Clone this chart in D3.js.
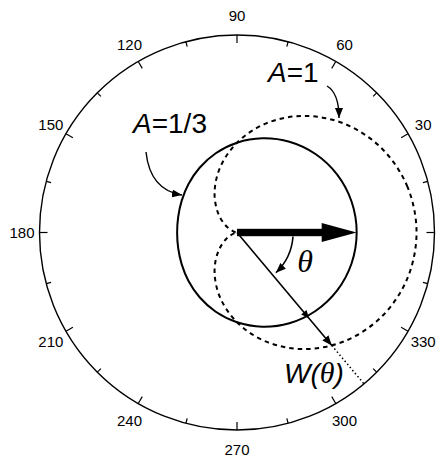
<!DOCTYPE html>
<html><head><meta charset="utf-8">
<script src="https://cdn.jsdelivr.net/npm/d3@7"></script>
<style>html,body{margin:0;padding:0;background:#fff;} svg{display:block;}</style>
</head><body>
<svg id="chart" width="447" height="457"></svg>
<script>
// ---- data ----
const thetaDeg = [0,15,30,45,60,75,90,105,120,135,150,165,180,195,210,225,240,255,270,285,300,315,330,345];
const wA13 = [1.333,1.322,1.289,1.236,1.167,1.086,1.000,0.914,0.833,0.764,0.711,0.678,0.667,0.678,0.711,0.764,0.833,0.914,1.000,1.086,1.167,1.236,1.289,1.322];
const wA1  = [2.000,1.966,1.866,1.707,1.500,1.259,1.000,0.741,0.500,0.293,0.134,0.034,0.000,0.034,0.134,0.293,0.500,0.741,1.000,1.259,1.500,1.707,1.866,1.966];
const majorTickAngles = [0,30,60,90,120,150,180,210,240,270,300,330];
const tickLabels = ["0","30","60","90","120","150","180","210","240","270","300","330"];
const minorTickAngles = [15,45,75,105,135,165,195,225,255,285,315,345];
const radialMax = 2.2;
const seriesLabels = ["A=1/3","A=1"];
const wTheta = 310;          // direction of the W(θ) vector (θ = 50° below the axis)
const wAtThetaA1 = 1.643;    // length of W(θ) on the A=1 curve
const wAtThetaA13 = 1.214;   // crossing with the A=1/3 curve
const mainArrowLength = 1.333;

// ---- layout ----
const cx = 237, cy = 232.5, R = 197.5;
const svg = d3.select("#chart");
const g = svg.append("g").attr("transform", `translate(${cx},${cy})`);
const ang = d3.scaleLinear().domain([0,360]).range([Math.PI/2, Math.PI/2 - 2*Math.PI]);
const rad = d3.scaleLinear().domain([0, radialMax]).range([0, R]);
const pt = (t, w) => [rad(w)*Math.sin(ang(t)), -rad(w)*Math.cos(ang(t))];

const defs = svg.append("defs");
defs.append("marker").attr("id","ah").attr("viewBox","0 0 10 8").attr("refX",10).attr("refY",4)
  .attr("markerUnits","userSpaceOnUse").attr("markerWidth",10).attr("markerHeight",8).attr("orient","auto")
  .append("path").attr("d","M0,0 L10,4 L0,8 Z").attr("fill","#000");

// outer circle
g.append("circle").attr("r", rad(radialMax)).attr("fill","none").attr("stroke","#000").attr("stroke-width",1.4);

// ticks
g.selectAll(".maj").data(majorTickAngles).join("line")
  .attr("x1", d => pt(d, radialMax)[0]).attr("y1", d => pt(d, radialMax)[1])
  .attr("x2", d => pt(d, radialMax)[0]*(R-8)/R).attr("y2", d => pt(d, radialMax)[1]*(R-8)/R)
  .attr("stroke","#000").attr("stroke-width",1.2);
g.selectAll(".min").data(minorTickAngles).join("line")
  .attr("x1", d => pt(d, radialMax)[0]).attr("y1", d => pt(d, radialMax)[1])
  .attr("x2", d => pt(d, radialMax)[0]*(R-5)/R).attr("y2", d => pt(d, radialMax)[1]*(R-5)/R)
  .attr("stroke","#000").attr("stroke-width",1.2);

// tick labels
g.selectAll(".tl").data(majorTickAngles).join("text")
  .attr("x", d => 215*Math.cos(d*Math.PI/180))
  .attr("y", d => -217*Math.sin(d*Math.PI/180))
  .attr("text-anchor","middle").attr("dominant-baseline","central")
  .attr("font-family","'Liberation Sans', Arial, sans-serif").attr("font-size",15)
  .text((d,i) => tickLabels[i]);

// curves
const line = d3.lineRadial().angle(d => ang(d.t)).radius(d => rad(d.w)).curve(d3.curveCatmullRomClosed.alpha(0.5));
g.append("path").datum(thetaDeg.map((t,i)=>({t, w:wA13[i]})))
  .attr("d", line).attr("fill","none").attr("stroke","#000").attr("stroke-width",2);
g.append("path").datum(thetaDeg.map((t,i)=>({t, w:wA1[i]})))
  .attr("d", line).attr("fill","none").attr("stroke","#000").attr("stroke-width",2).attr("stroke-dasharray","4.5,4");

// thick arrow along θ = 0
const tip = pt(0, mainArrowLength);
g.append("rect").attr("x",0).attr("y",-3.7).attr("width", tip[0]-34).attr("height",7.4).attr("fill","#000");
g.append("path").attr("d", `M${tip[0]},0 L${tip[0]-35},-9.5 L${tip[0]-35},9.5 Z`).attr("fill","#000");

// W(θ) vector
const pEnd = pt(wTheta, wAtThetaA1);
g.append("line").attr("x1",0).attr("y1",0).attr("x2",pEnd[0]).attr("y2",pEnd[1])
  .attr("stroke","#000").attr("stroke-width",1.6).attr("marker-end","url(#ah)");
const pMid = pt(wTheta, wAtThetaA13);
g.append("path").attr("transform", `translate(${pMid[0]},${pMid[1]}) rotate(${(360-wTheta)})`)
  .attr("d","M3,0 L-5,-3.5 L-5,3.5 Z").attr("fill","#000");
const pOut = pt(wTheta, radialMax);
g.append("line").attr("x1",pEnd[0]).attr("y1",pEnd[1]).attr("x2",pOut[0]).attr("y2",pOut[1])
  .attr("stroke","#000").attr("stroke-width",1.5).attr("stroke-dasharray","1.5,2.5");

// angle arc
const ar = 56, aEnd = 46*Math.PI/180;
g.append("path").attr("d", `M${ar},4 A${ar},${ar} 0 0 1 ${ar*Math.cos(aEnd)},${ar*Math.sin(aEnd)}`)
  .attr("fill","none").attr("stroke","#000").attr("stroke-width",1.6).attr("marker-end","url(#ah)");
g.append("text").attr("x",68).attr("y",39).attr("text-anchor","middle")
  .attr("font-family","'Liberation Serif', 'Times New Roman', serif").attr("font-style","italic").attr("font-size",32)
  .text("θ");

// labels
const lbl = (x, y, s) => {
  const t = svg.append("text").attr("x",x).attr("y",y)
    .attr("font-family","'Liberation Sans', Arial, sans-serif").attr("font-size",28);
  t.append("tspan").attr("font-style","italic").text(s[0]);
  t.append("tspan").text(s.slice(1));
};
lbl(133, 133, seriesLabels[0]);
lbl(268, 82, seriesLabels[1]);
const wl = svg.append("text").attr("x",284).attr("y",383)
  .attr("font-family","'Liberation Sans', Arial, sans-serif").attr("font-style","italic").attr("font-size",28);
wl.append("tspan").text("W(");
wl.append("tspan").attr("font-family","'Liberation Serif', 'Times New Roman', serif").attr("font-size",30).text("θ");
wl.append("tspan").text(")");

// annotation arrows
svg.append("path").attr("d","M146,152 Q150,190 182,195").attr("fill","none").attr("stroke","#000")
  .attr("stroke-width",1.4).attr("marker-end","url(#ah)");
svg.append("path").attr("d","M327,86 Q339,93 339,118").attr("fill","none").attr("stroke","#000")
  .attr("stroke-width",1.4).attr("marker-end","url(#ah)");
</script>
</body></html>
